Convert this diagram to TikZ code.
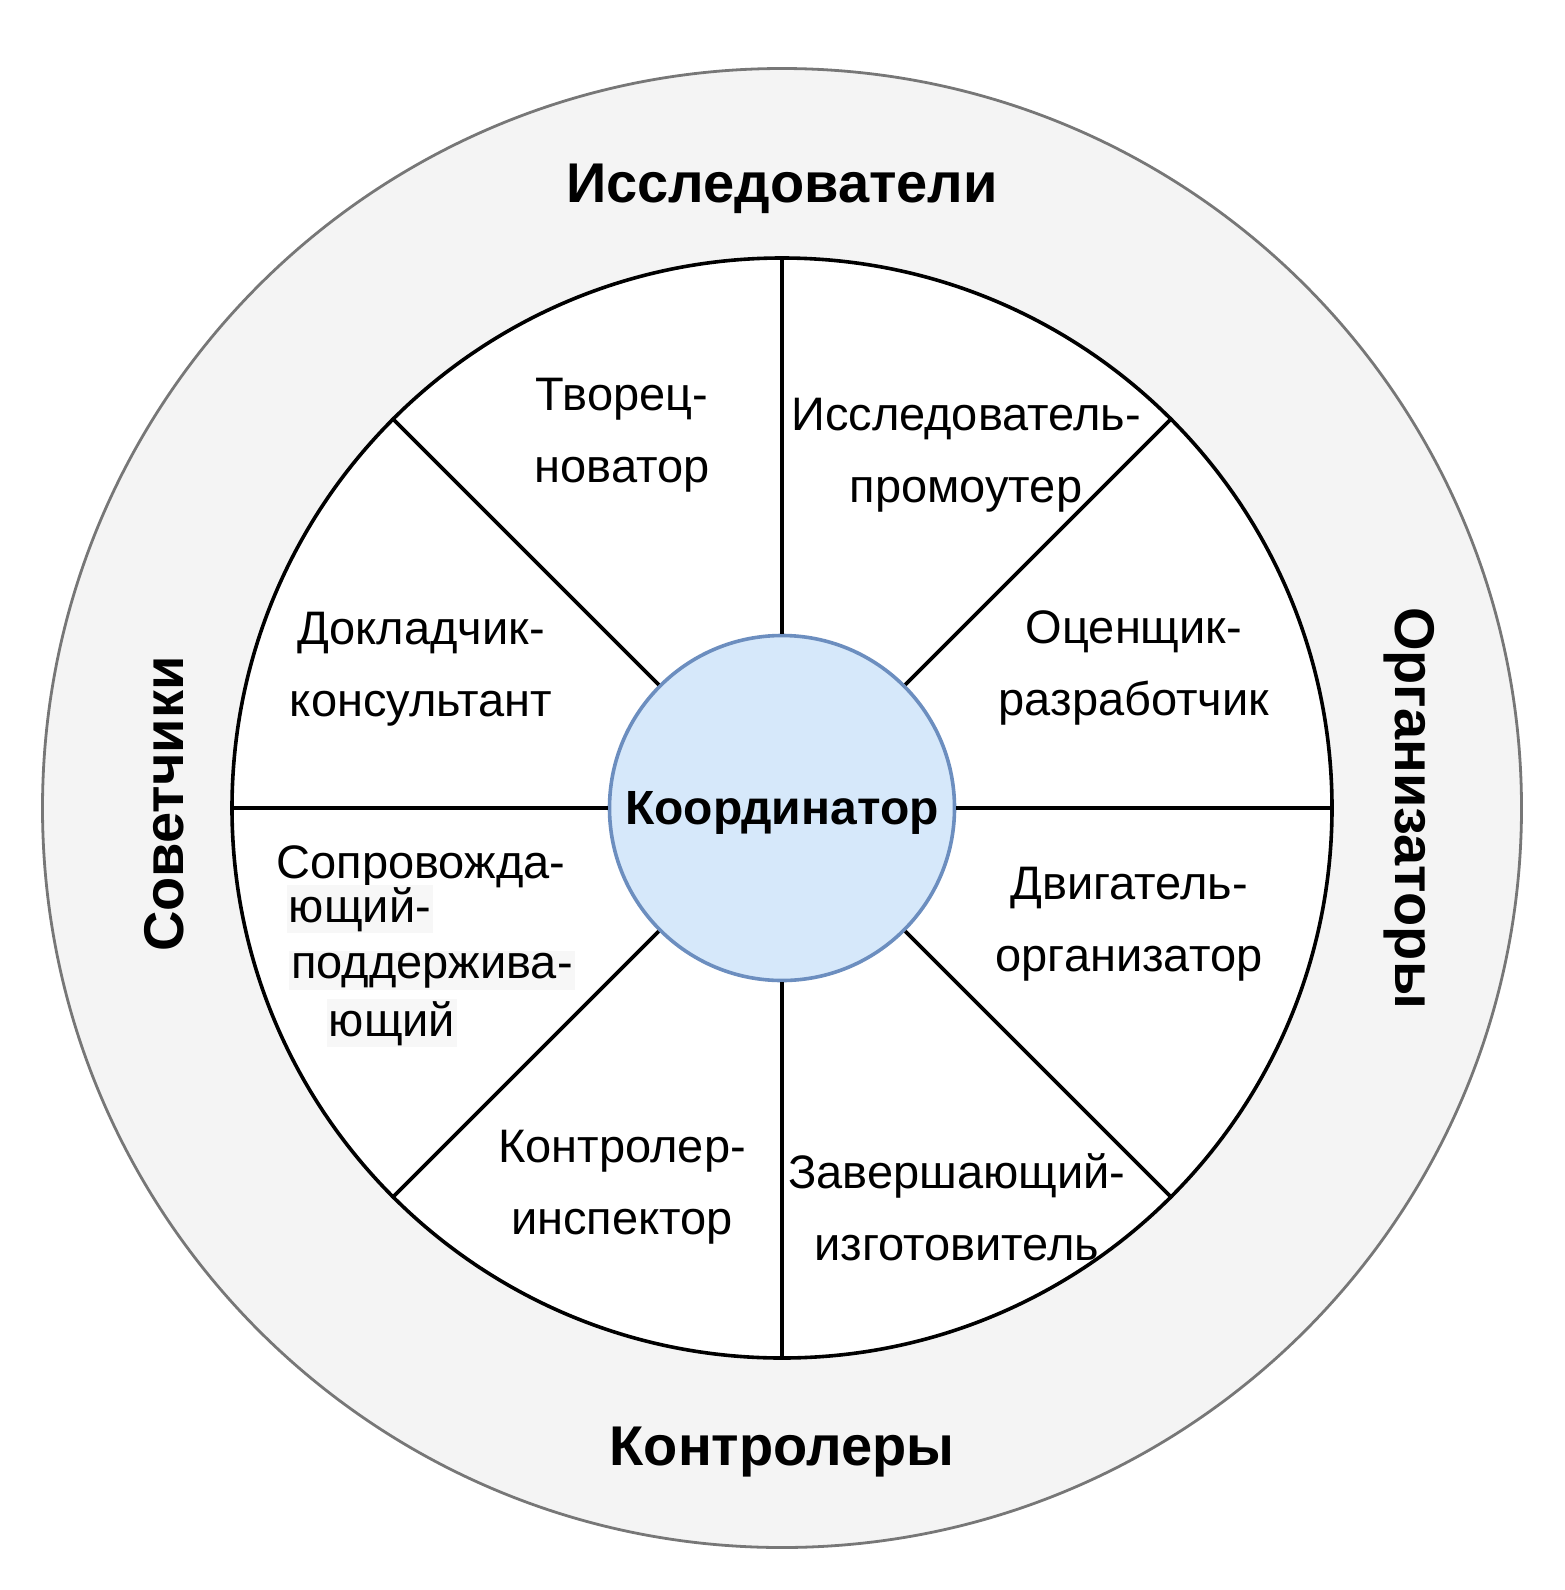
\documentclass[tikz,border=0pt]{standalone}
\usepackage{fontspec}
\setmainfont{Liberation Sans}

\definecolor{ringfill}{HTML}{F4F4F4}
\definecolor{ringline}{HTML}{777777}
\definecolor{hubfill}{HTML}{D6E8FA}
\definecolor{hubline}{HTML}{6C8EBF}

\tikzset{
	group/.style={font=\fontsize{28}{34}\selectfont\bfseries},
	role/.style={font=\fontsize{23.5}{36}\selectfont, align=center, inner sep=0pt},
	shade/.style={fill=black!3, inner sep=1pt},
	spoke/.style={draw=black, line width=1.8pt},
}

\begin{document}
\begin{tikzpicture}[x=0.5pt, y=-0.5pt]
	\useasboundingbox (0,0) rectangle (1564,1590);

	% 1. Outer ring - group names
	\node[circle, draw=ringline, fill=ringfill, line width=1.4pt, minimum size=739.5pt, inner sep=0pt] (ring) at (782,808) {};

	% 2. Wheel with the eight roles
	\node[circle, draw=black, fill=white, line width=1.8pt, minimum size=550pt, inner sep=0pt] (wheel) at (782,808) {};

	% 3. Hub - coordinator
	\node[circle, draw=hubline, fill=hubfill, line width=1.8pt, minimum size=172.5pt, inner sep=0pt,
		font=\fontsize{24}{28}\selectfont\bfseries] (hub) at (782,808) {};
	\node[font=\fontsize{24}{28}\selectfont\bfseries] (hubtext) at (782,813) {Координатор};

	% spokes between hub and wheel
	\foreach \a in {0,45,...,315}
		\draw[spoke] (hub.\a) -- (wheel.\a);

	% group names
	\node[group] (res) at (782,189) {Исследователи};
	\node[group] (ctl) at (782,1452) {Контролеры};
	\node[group, rotate=90] (adv) at (164,804) {Советчики};
	\node[group, rotate=-90] (org) at (1409,808) {Организаторы};

	% roles
	\node[role] (creator) at (622,435) {Творец-\\новатор};
	\node[role] (promoter) at (966,455) {Исследователь-\\промоутер};
	\node[role] (evaluator) at (1134,668) {Оценщик-\\разработчик};
	\node[role] (driver) at (1129,924) {Двигатель-\\организатор};
	\node[role] (finisher) at (957,1207) {Завершающий-\\изготовитель};
	\node[role] (inspector) at (622,1187) {Контролер-\\инспектор};
	\node[role] (speaker) at (421,669) {Докладчик-\\консультант};

	% the supporter, set line by line
	\node[role, anchor=base] (sup1) at (421,878) {Сопровожда-};
	\node[role, shade, anchor=base] (sup2) at (360,922) {ющий-};
	\node[role, shade, anchor=base] (sup3) at (432,978) {поддержива-};
	\node[role, shade, anchor=base] (sup4) at (392,1036) {ющий};
\end{tikzpicture}
\end{document}
